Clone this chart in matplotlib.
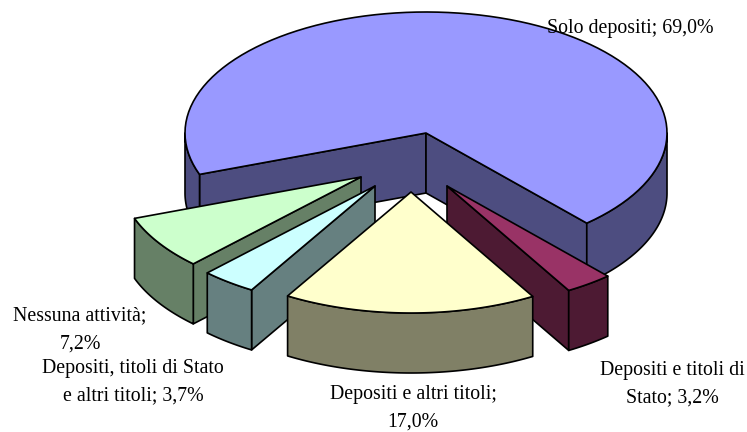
import numpy as np
import matplotlib
matplotlib.use("Agg")
import matplotlib.pyplot as plt
from matplotlib.patches import Polygon

plt.rcParams['font.family'] = ['Liberation Serif', 'DejaVu Serif']

labels = ["Solo depositi; 69,0%", "Depositi e titoli di\nStato; 3,2%", "Depositi e altri titoli;\n17,0%",
          "Depositi, titoli di Stato\ne altri titoli; 3,7%", "Nessuna attività;\n7,2%"]
values = [69.0, 3.2, 17.0, 3.7, 7.2]
top_colors = ["#9999FF", "#993366", "#FFFFCC", "#CCFFFF", "#CCFFCC"]
side_colors = ["#4D4D80", "#4D1A33", "#808066", "#668080", "#668066"]

# pie geometry, in pixels of the picture
cx, cy = 426, 133
rx, ry = 241, 121
depth = 60
start_angle = 200
shift_x = [0, 21, -15, -51, -65]
shift_y = [0, 53, 59, 53, 44]
label_x = [630, 672, 413, 133, 80]
label_y = [28, 384, 408, 382, 330]
draw_order = [0, 4, 3, 1, 2]


def arc(x0, y0, a1, a2):
    t = np.radians(np.linspace(a1, a2, 100))
    return np.column_stack([x0 + rx * np.cos(t), y0 - ry * np.sin(t)])


fig = plt.figure(figsize=(7.47, 4.32), dpi=100)
ax = fig.add_axes([0, 0, 1, 1])
ax.set_xlim(0, 747)
ax.set_ylim(432, 0)
ax.axis("off")

sweep = 360 * np.array(values) / sum(values)
ends = start_angle - np.cumsum(sweep)
starts = ends + sweep

for i in draw_order:
    x0 = cx + shift_x[i]
    y0 = cy + shift_y[i]
    a1, a2 = starts[i], ends[i]
    style = dict(edgecolor="black", linewidth=1.2, joinstyle="round")

    # walls along the two cut edges
    for a in (a1, a2):
        visible = np.cos(np.radians(a)) < 0 if a == a1 else np.cos(np.radians(a)) > 0
        if visible:
            p = arc(x0, y0, a, a)[0]
            ax.add_patch(Polygon([(x0, y0), p, (p[0], p[1] + depth), (x0, y0 + depth)],
                                 facecolor=side_colors[i], **style))

    # outer wall, only the part that faces front
    for lo, hi in [(-180, 0), (180, 360)]:
        b1, b2 = min(a1, hi), max(a2, lo)
        if b1 > b2:
            edge = arc(x0, y0, b1, b2)
            low = edge[::-1] + [0, depth]
            ax.add_patch(Polygon(np.vstack([edge, low]), facecolor=side_colors[i], **style))

    ax.add_patch(Polygon(np.vstack([[(x0, y0)], arc(x0, y0, a1, a2)]), facecolor=top_colors[i], **style))

for i in range(len(labels)):
    ax.text(label_x[i], label_y[i], labels[i], ha="center", va="center", fontsize=14.3,
            color="black", linespacing=1.62)

fig.savefig("out.png", dpi=100)
